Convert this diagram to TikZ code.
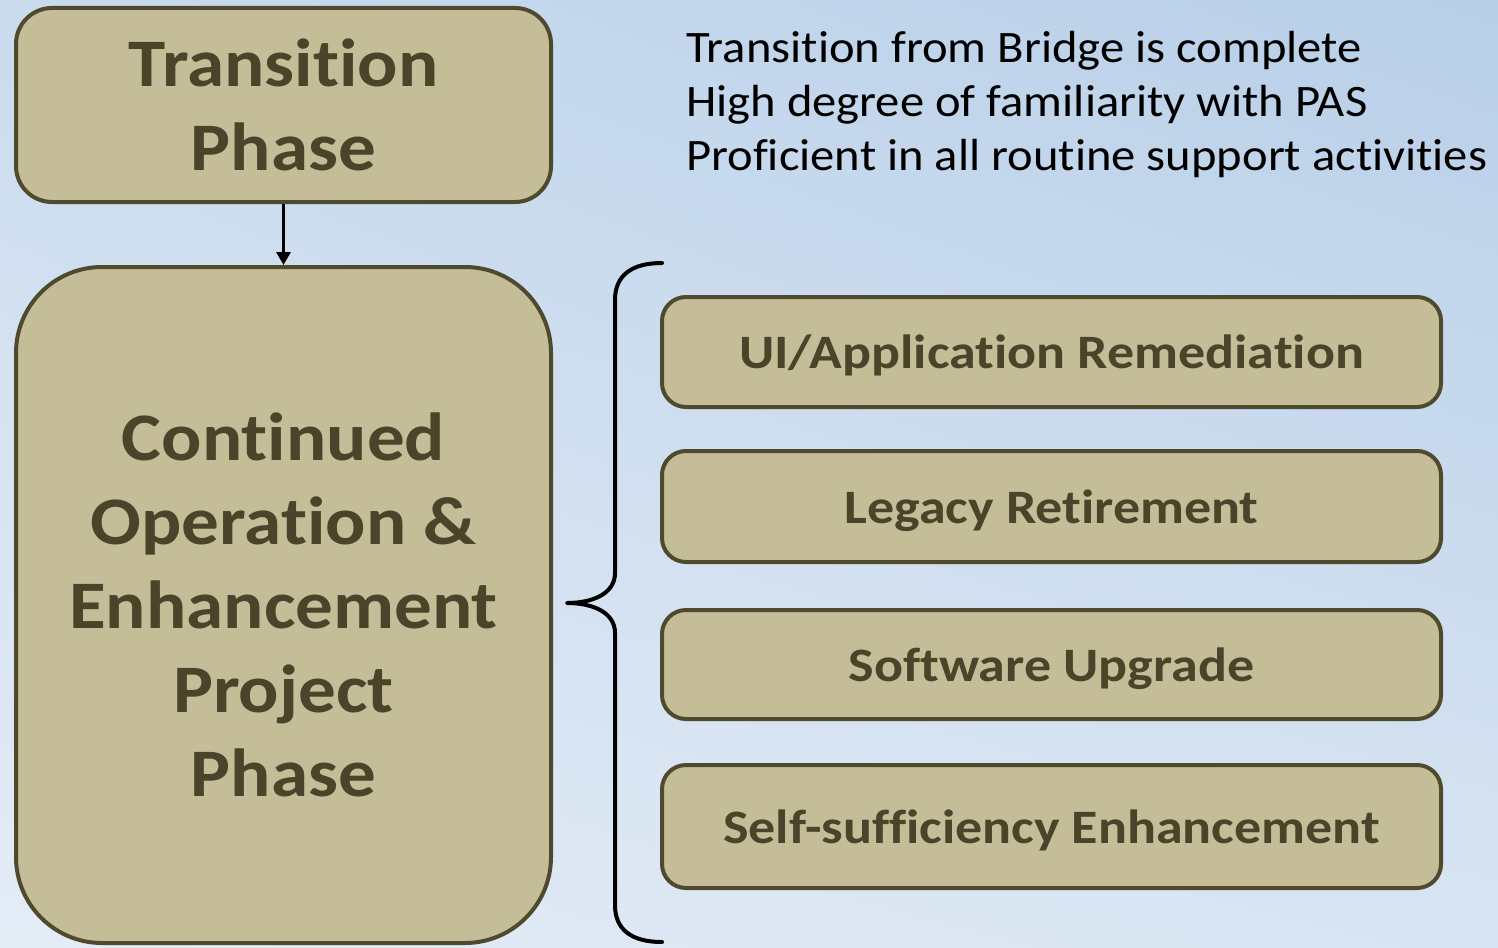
\documentclass[tikz,border=0pt]{standalone}
\usepackage{fontspec}
\setmainfont{Carlito}[Ligatures={NoCommon,NoContextual}, FakeStretch=1.08,
  BoldFeatures={FakeStretch=1.105}]
\newfontfamily\itemfont{Carlito}[Ligatures={NoCommon,NoContextual},
  BoldFeatures={FakeStretch=1.125}]
\usetikzlibrary{arrows.meta,shadings}
\definecolor{bgTL}{RGB}{202,219,238}
\definecolor{bgTR}{RGB}{184,207,232}
\definecolor{bgBL}{RGB}{228,236,246}
\definecolor{bgBR}{RGB}{216,228,242}
\definecolor{tanfill}{RGB}{196,189,151}
\definecolor{tanline}{RGB}{79,74,46}
\definecolor{tantext}{RGB}{74,69,42}
\tikzset{
  phasebox/.style={draw=tanline, line width=4pt, fill=tanfill, text=tantext,
    inner sep=0pt, align=center, font=\bfseries\fontsize{68}{84}\selectfont},
  itembox/.style={draw=tanline, line width=4pt, fill=tanfill, text=tantext,
    rounded corners=24pt, inner sep=0pt, minimum width=779pt, align=center,
    text depth=0pt, font=\itemfont\bfseries\fontsize{48}{58}\selectfont},
  notetext/.style={inner sep=0pt, align=left, text=black,
    font=\fontsize{45}{54}\selectfont},
  bracepath/.style={draw=black, line width=4pt, line cap=round, line join=round},
  flowarrow/.style={draw=black, line width=3pt, -{Triangle[width=14pt,length=13pt]}}
}
\begin{document}
\begin{tikzpicture}[x=1pt,y=-1pt]
\useasboundingbox (0,0) rectangle (1498,947);
\shade[upper left=bgTL, upper right=bgTR, lower left=bgBL, lower right=bgBR] (0,0) rectangle (1498,947);

\node[phasebox, rounded corners=36pt, minimum width=535pt, minimum height=194pt] (trans) at (283.5,105) {Transition\\Phase};
\node[phasebox, rounded corners=86pt, minimum width=535pt, minimum height=676pt] (cont) at (283.5,605) {Continued\\Operation \&\\Enhancement\\Project\\Phase};
\draw[flowarrow] (trans.south) -- (cont.north);

\node[notetext, anchor=north west] (notes) at (686,31) {Transition from Bridge is complete\\High degree of familiarity with PAS\\Proficient in all routine support activities};

\node[itembox, minimum height=110pt] (ui) at (1051.5,352) {UI/Application Remediation};
\node[itembox, minimum height=111pt] (legacy) at (1051.5,506.5) {Legacy Retirement};
\node[itembox, minimum height=109pt] (soft) at (1051.5,664.5) {Software Upgrade};
\node[itembox, minimum height=123pt] (self) at (1051.5,826.5) {Self-sufficiency Enhancement};

\coordinate (btop) at (662,263);
\coordinate (btip) at (567,603);
\coordinate (bbot) at (662,942);
\draw[bracepath] (btop) .. controls (632,263) and (615,275) .. (615,300) -- (615,573)
  .. controls (615,594) and (592,603) .. (btip)
  .. controls (592,603) and (615,612) .. (615,633) -- (615,905)
  .. controls (615,930) and (632,942) .. (bbot);
\end{tikzpicture}
\end{document}
